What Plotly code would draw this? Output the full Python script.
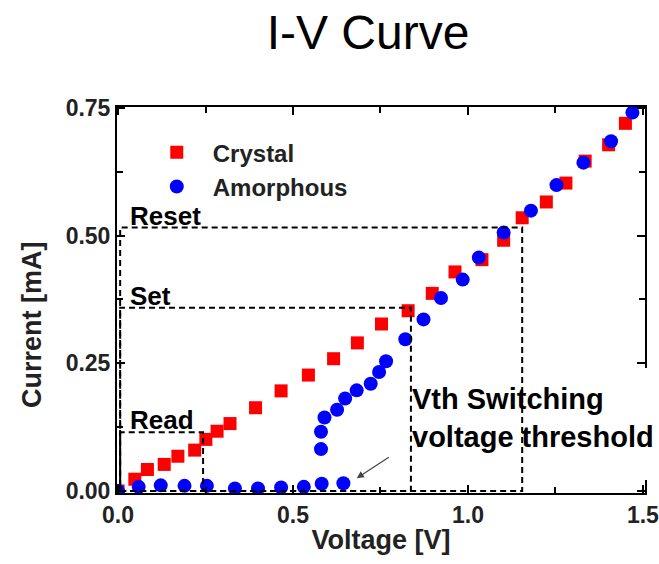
import plotly.graph_objects as go

# ---- data ----
crystal_v = [0.0, 0.048, 0.084, 0.132, 0.171, 0.219, 0.251, 0.283, 0.320, 0.393, 0.466,
             0.544, 0.616, 0.684, 0.753, 0.829, 0.898, 0.963, 1.040, 1.102, 1.155,
             1.224, 1.280, 1.335, 1.402, 1.450]
crystal_i = [0.0, 0.023, 0.042, 0.052, 0.068, 0.080, 0.101, 0.117, 0.132, 0.163, 0.196,
             0.227, 0.259, 0.290, 0.327, 0.353, 0.387, 0.429, 0.453, 0.491, 0.535,
             0.566, 0.603, 0.646, 0.678, 0.720]

amorph_v = [0.0, 0.059, 0.122, 0.190, 0.254, 0.334, 0.400, 0.466, 0.531, 0.582, 0.644,
            0.580, 0.580, 0.590, 0.626, 0.649, 0.682, 0.722, 0.746, 0.766, 0.821,
            0.873, 0.923, 0.985, 1.031, 1.102, 1.180, 1.253, 1.330, 1.409, 1.470]
amorph_i = [0.0, 0.008, 0.011, 0.010, 0.010, 0.005, 0.005, 0.007, 0.008, 0.014, 0.015,
            0.082, 0.116, 0.144, 0.159, 0.181, 0.197, 0.210, 0.233, 0.254, 0.297,
            0.336, 0.378, 0.414, 0.457, 0.506, 0.549, 0.599, 0.643, 0.685, 0.741]

# operating windows (dashed boxes)
box_labels = ["Read", "Set", "Reset"]
box_v = [0.243, 0.837, 1.155]
box_i = [0.115, 0.359, 0.516]

# arrow pointing at switching onset
arrow_tail = (0.778, 0.068)
arrow_head = (0.682, 0.025)

vth_text = "Vth Switching<br>voltage threshold"
vth_pos = (0.834, 0.143)

FONT = "Liberation Sans, Arial, sans-serif"

fig = go.Figure()
fig.add_trace(go.Scatter(
    x=crystal_v, y=crystal_i, mode="markers", name="Crystal", legendgroup="c",
    marker=dict(symbol="square", size=13, color="#ff0000", line=dict(width=0)),
))
fig.add_trace(go.Scatter(
    x=amorph_v, y=amorph_i, mode="markers", name="Amorphous", legendgroup="a",
    marker=dict(symbol="circle", size=14, color="#0000ff", line=dict(width=0)),
))

shapes = []
annotations = []
for lab, v, i in zip(box_labels, box_v, box_i):
    shapes.append(dict(type="rect", xref="x", yref="y", x0=0.006, x1=v, y0=0.0, y1=i,
                       line=dict(color="black", width=2, dash="6px,4px"), layer="above"))
    annotations.append(dict(x=0.029, y=i, xref="x", yref="y", text=lab, showarrow=False,
                            xanchor="left", yanchor="bottom", yshift=-5,
                            font=dict(family=FONT, size=26, color="black", weight="bold")))

# white patch hiding the frame behind the annotation text
shapes.append(dict(type="rect", xref="paper", yref="paper", x0=0.972, x1=1.03,
                   y0=0.034, y1=0.324, fillcolor="white", line=dict(width=0), layer="above"))

annotations.append(dict(x=vth_pos[0], y=vth_pos[1], xref="x", yref="y", text=vth_text,
                        showarrow=False, xanchor="left", yanchor="middle", align="left",
                        font=dict(family=FONT, size=29, color="black", weight="bold")))
annotations.append(dict(x=arrow_head[0], y=arrow_head[1], ax=arrow_tail[0], ay=arrow_tail[1],
                        xref="x", yref="y", axref="x", ayref="y", text="", showarrow=True,
                        arrowhead=2, arrowsize=1.2, arrowwidth=1.2, arrowcolor="#444"))

# y-axis title (placed as annotation, offset downward like the reference)
annotations.append(dict(x=-0.161, y=0.438, xref="paper", yref="paper", text="Current [mA]",
                        showarrow=False, textangle=-90, xanchor="center", yanchor="middle",
                        font=dict(family=FONT, size=27, color="#222", weight="bold")))

axis_common = dict(
    showline=True, linecolor="black", linewidth=2, mirror="ticks",
    ticks="inside", ticklen=8, tickwidth=1.5, tickcolor="black",
    showgrid=False, zeroline=False, automargin=False, ticklabeloverflow="allow",
    tickfont=dict(family=FONT, size=23, color="#222", weight="bold"),
)

fig.update_layout(
    width=659, height=564,
    margin=dict(l=117, r=14, t=107, b=71),
    paper_bgcolor="white", plot_bgcolor="white",
    title=dict(text="I-V Curve", x=368 / 659, xanchor="center", xref="container",
               y=1 - 32 / 564, yanchor="middle",
               font=dict(family=FONT, size=48, color="black")),
    xaxis=dict(range=[-0.003, 1.506], tickvals=[0, 0.5, 1.0, 1.5],
               ticktext=["0.0", "0.5", "1.0", "1.5"],
               minor=dict(dtick=0.25, ticks="inside", ticklen=6, tickcolor="black"),
               title=dict(text="Voltage [V]", standoff=4,
                          font=dict(family=FONT, size=27, color="#222", weight="bold")),
               **axis_common),
    yaxis=dict(range=[-0.004, 0.752], tickvals=[0, 0.25, 0.5, 0.75],
               ticktext=["0.00", "0.25", "0.50", "0.75"],
               minor=dict(dtick=0.125, ticks="inside", ticklen=6, tickcolor="black"),
               **axis_common),
    legend=dict(x=0.045, y=0.94, xanchor="left", yanchor="top", bgcolor="rgba(0,0,0,0)",
                font=dict(family=FONT, size=24, color="#222", weight="bold"),
                itemwidth=62, tracegroupgap=0),
    shapes=shapes, annotations=annotations,
    showlegend=True,
)

fig.write_html("out.html")
